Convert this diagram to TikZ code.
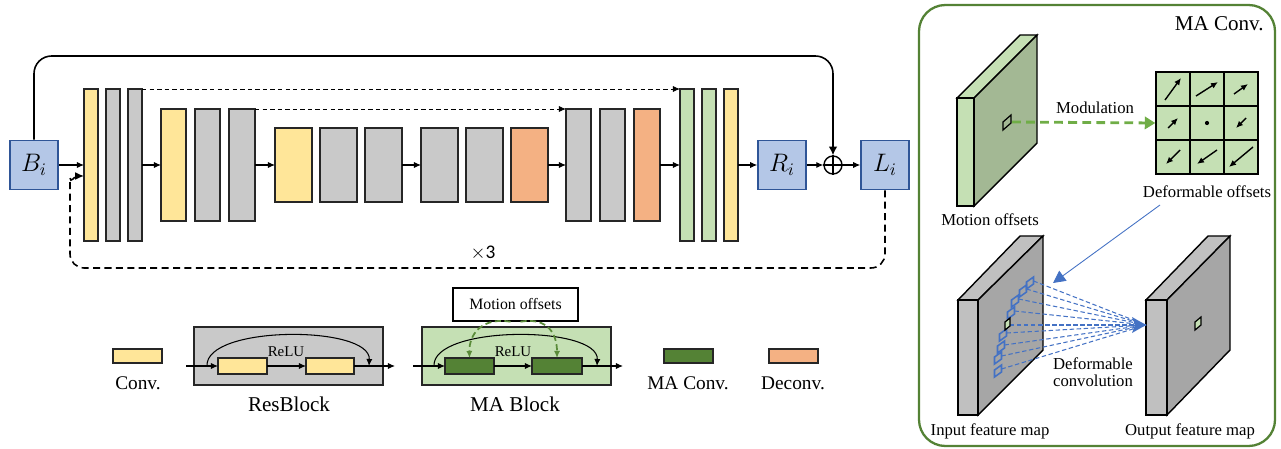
\documentclass[tikz,border=0pt]{standalone}
\usepackage{fontspec}
\setmainfont{Liberation Serif}
\newfontfamily\numfont{Carlito}
\usetikzlibrary{arrows.meta}

\definecolor{convyellow}{HTML}{FFE699}
\definecolor{resgray}{HTML}{C9C9C9}
\definecolor{deconvorange}{HTML}{F4B183}
\definecolor{magreen}{HTML}{C5E0B4}
\definecolor{madark}{HTML}{548235}
\definecolor{boxblue}{HTML}{B4C7E7}
\definecolor{boxedge}{HTML}{2F5597}
\definecolor{modgreen}{HTML}{70AD47}
\definecolor{offblue}{HTML}{4472C4}
\definecolor{facegreen}{HTML}{A3B894}
\definecolor{facegray}{HTML}{A6A6A6}
\definecolor{sidegray}{HTML}{C0C0C0}

\tikzset{
  fm/.style={draw=black!85, line width=0.8pt, inner sep=0pt, outer sep=0pt},
  conv/.style={fm, fill=convyellow},
  res/.style={fm, fill=resgray},
  deconv/.style={fm, fill=deconvorange},
  ma/.style={fm, fill=magreen},
  maconv/.style={fm, fill=madark},
  img/.style={draw=boxedge, fill=boxblue, line width=0.9pt, minimum width=0.96cm,
    minimum height=0.98cm, inner sep=0pt, font=\fontsize{14}{16}\selectfont},
  legend/.style={font=\fontsize{11}{13}\selectfont},
  blocklabel/.style={font=\fontsize{12}{14}\selectfont},
  small/.style={font=\fontsize{8.5}{10}\selectfont, inner sep=1pt},
  panel/.style={font=\fontsize{9.5}{11}\selectfont, inner sep=1pt},
  skipdash/.style={dash pattern=on 2.5pt off 1.8pt, line width=0.5pt},
  loopdash/.style={dash pattern=on 4pt off 2.5pt, line width=0.9pt},
  moddash/.style={modgreen, line width=1.6pt, dash pattern=on 5pt off 3pt,
    -{Triangle[length=6pt,width=7pt]}},
  gdash/.style={madark!80!modgreen, line width=1pt, dash pattern=on 3.5pt off 2pt,
    -{Latex[length=4pt,width=3.5pt]}},
  bluedash/.style={offblue, line width=0.6pt, dash pattern=on 2.5pt off 1.5pt},
  cellarrow/.style={line width=0.8pt, -{Latex[length=4pt,width=3.5pt]}}
}

\newcommand{\fmap}[6]{\node[#1, minimum width={(#4-#3)*0.02cm}, minimum height={(#6-#5)*0.02cm}] (#2) at ({(#3+#4)/2},{(#5+#6)/2}) {};}

\begin{document}
\begin{tikzpicture}[x=0.02cm, y=-0.02cm, >={Latex[length=4pt,width=3.5pt]}, line width=0.6pt]
                \useasboundingbox (0,0) rectangle (1281,449);
                \node[img] (B) at (34,165) {$B_i$};
                \foreach \nm/\xa/\xb/\st/\ya/\yb in {
                  a1/84/98/conv/89/241, a2/106/120/res/89/241, a3/128/142/res/89/241,
                  b1/161/186/conv/109/221, b2/195/220/res/109/221, b3/229/255/res/109/221,
                  c1/275/312/conv/128/202, c2/320/357/res/128/202, c3/365/402/res/128/202,
                  d1/421/458/res/128/202, d2/466/503/res/128/202, d3/511/548/deconv/128/202,
                  e1/566/591/res/109/221, e2/600/625/res/109/221, e3/634/660/deconv/109/221,
                  f1/680/694/ma/89/241, f2/702/716/ma/89/241, f3/724/738/conv/89/241}{
                  \fmap{\st}{\nm}{\xa}{\xb}{\ya}{\yb}
                }
                \node[img] (R) at (782,165) {$R_i$};
                \node[draw, circle, inner sep=0pt, minimum size=0.36cm, line width=0.8pt] (plus) at (833,165) {};
                \draw[line width=0.8pt] (plus.north) -- (plus.south) (plus.west) -- (plus.east);
                \node[img] (L) at (885,165) {$L_i$};
                \draw[->] (B.east) -- (a1.west);
                \foreach \p/\q in {a3/b1, b3/c1, c3/d1, d3/e1, e3/f1, f3/R, R/plus, plus/L}
                  \draw[->] (\p.east) -- (\q.west);
                \draw[skipdash,->] (a3.north east) -- (f1.north west);
                \draw[skipdash,->] (b3.north east) -- (e1.north west);
                \coordinate (top) at (0,56);
                \draw[line width=0.9pt, rounded corners=10, -{Latex[length=5pt,width=5pt]}] (B.north) -- (B.north |- top) -- (plus.north |- top) -- (plus.north);
                \coordinate (bot) at (0,268);
                \coordinate (lft) at (70,192);
                \coordinate (lend) at (0,176);
                \draw[loopdash, rounded corners=8, -{Latex[length=5pt,width=4.5pt]}] (L.south) -- (L.south |- bot) -- (lft |- bot) -- (lft) to[out=90,in=180] (a1.west |- lend);
                \node[font=\numfont\fontsize{11}{13}\selectfont] (rep) at (483,253) {$\times$3};

                \fmap{conv}{lconv}{113}{162}{349}{363}
                \node[legend] (tconv) at (138,383) {Conv.};

                \node[fm, fill=resgray, minimum width=3.78cm, minimum height=1.16cm] (rbox) at (288.5,356) {};
                \fmap{conv}{rc1}{218}{267}{358}{374}
                \fmap{conv}{rc2}{306}{354}{358}{374}
                \coordinate (rin) at (186,366);
                \coordinate (rout) at (395,366);
                \coordinate (rs1) at (207,366);
                \coordinate (rs2) at (369,366);
                \draw[->] (rin) -- (rc1.west);
                \draw[->] (rc1.east) -- (rc2.west);
                \draw[->] (rc2.east) -- (rout);
                \draw[->] (rs1) .. controls (205,325) and (371,325) .. (rs2);
                \node[small] (relu1) at (286,352) {ReLU};
                \node[blocklabel] (tres) at (289,404) {ResBlock};

                \node[fm, fill=magreen, minimum width=3.78cm, minimum height=1.16cm] (mbox) at (516.5,356) {};
                \fmap{maconv}{mc1}{445}{494}{358}{374}
                \fmap{maconv}{mc2}{532}{582}{358}{374}
                \coordinate (min) at (413,366);
                \coordinate (mout) at (623,366);
                \coordinate (ms1) at (434,366);
                \coordinate (ms2) at (597,366);
                \draw[->] (min) -- (mc1.west);
                \draw[->] (mc1.east) -- (mc2.west);
                \draw[->] (mc2.east) -- (mout);
                \draw[->] (ms1) .. controls (432,325) and (599,325) .. (ms2);
                \node[small] (relu2) at (513,352) {ReLU};
                \node[draw, line width=0.8pt, fill=white, minimum width=2.5cm, minimum height=0.66cm, inner sep=0pt,
                  font=\fontsize{9}{11}\selectfont] (mo) at (515.5,304.5) {Motion offsets};
                \draw[gdash] ([xshift=-0.1cm]mo.south) .. controls (482,317) and (469,334) .. (mc1.north);
                \draw[gdash] ([xshift=0.1cm]mo.south) .. controls (548,317) and (557,334) .. (mc2.north);
                \node[blocklabel] (tma) at (515,404) {MA Block};

                \fmap{maconv}{lmaconv}{664}{713}{349}{363}
                \node[legend] (tmaconv) at (688,383) {MA Conv.};
                \fmap{deconv}{ldeconv}{769}{818}{349}{363}
                \node[legend] (tdeconv) at (793,383) {Deconv.};

                \draw[madark, line width=1.3pt, rounded corners=15] (919,5) rectangle (1275,446);
                \node[blocklabel, anchor=east] (tpanel) at (1270,24) {MA Conv.};

                \draw[line width=0.8pt, fill=magreen] (957,98) -- (1020,35) -- (1037,35) -- (974,98) -- cycle;
                \draw[line width=0.8pt, fill=facegreen] (974,98) -- (1037,35) -- (1037,143) -- (974,206) -- cycle;
                \draw[line width=0.8pt, fill=magreen] (957,98) rectangle (974,206);
                \draw[line width=0.7pt] (1003,130) -- (1003,122) -- (1011,115) -- (1011,123) -- cycle;
                \node[panel] (tmot) at (990,220) {Motion offsets};

                \node[draw, line width=0.8pt, fill=magreen, minimum size=2.04cm, inner sep=0pt] (offs) at (1207,123) {};
                \foreach \i in {1,2}{
                  \draw[line width=0.6pt] ({1156+34*\i},72) -- ({1156+34*\i},174);
                  \draw[line width=0.6pt] (1156,{72+34*\i}) -- (1258,{72+34*\i});
                }
                \foreach \cx/\cy/\dx/\dy in {0/0/8/-11, 1/0/11/-7, 2/0/7/-5, 0/1/5/-5, 2/1/-5/5, 0/2/-7/7, 1/2/-10/7, 2/2/-12/10}
                  \draw[cellarrow] ({1173+34*\cx-(\dx)},{89+34*\cy-(\dy)}) -- ({1173+34*\cx+(\dx)},{89+34*\cy+(\dy)});
                \fill (1207,123) circle (1.2pt);
                \coordinate (pix) at (1012,122);
                \draw[moddash] (pix) -- (offs.west);
                \node[panel] (tmod) at (1095,108) {Modulation};
                \node[panel] (tdef) at (1207,192) {Deformable offsets};
                \coordinate (dstart) at (1160,205);
                \coordinate (dend) at (1053,283);
                \draw[offblue, line width=0.5pt, -{Triangle[length=7pt,width=7pt]}] (dstart) -- (dend);

                \draw[line width=0.8pt, fill=sidegray] (958,300) -- (1020,236) -- (1043,236) -- (978,300) -- cycle;
                \draw[line width=0.8pt, fill=facegray] (978,300) -- (1043,236) -- (1043,350) -- (978,415) -- cycle;
                \draw[line width=0.8pt, fill=sidegray] (958,300) rectangle (978,415);
                \draw[line width=0.8pt, fill=sidegray] (1146,300) -- (1208,236) -- (1230,236) -- (1167,300) -- cycle;
                \draw[line width=0.8pt, fill=facegray] (1167,300) -- (1230,236) -- (1230,350) -- (1167,415) -- cycle;
                \draw[line width=0.8pt, fill=sidegray] (1146,300) rectangle (1167,415);
                \draw[line width=0.7pt, fill=magreen] (1195,330) -- (1195,322) -- (1201,317) -- (1201,325) -- cycle;

                \coordinate (tgt) at (1146,325);
                \foreach \sx/\sy in {1030/283, 1023/291, 1015/301, 1011/313, 1003/335, 1001/347, 998/358, 998/371}{
                  \draw[offblue, line width=0.9pt] ({\sx-3.5},{\sy+6}) -- ({\sx-3.5},{\sy-1}) -- ({\sx+3.5},{\sy-6}) -- ({\sx+3.5},{\sy+1}) -- cycle;
                  \draw[bluedash] ({\sx+3.5},{\sy-2}) -- (tgt);
                }
                \draw[bluedash] (1010,325) -- (tgt);
                \fill[offblue] (tgt) -- (1132,317) -- (1135,325) -- (1132,333) -- cycle;
                \draw[line width=0.7pt, fill=magreen] (1005,330) -- (1005,322) -- (1010,318) -- (1010,326) -- cycle;
                \node[panel, align=center] (tdconv) at (1093,372) {Deformable\\[-1pt]convolution};
                \node[panel] (tin) at (990,431) {Input feature map};
                \node[panel] (tout) at (1190,431) {Output feature map};
            \end{tikzpicture}
\end{document}
